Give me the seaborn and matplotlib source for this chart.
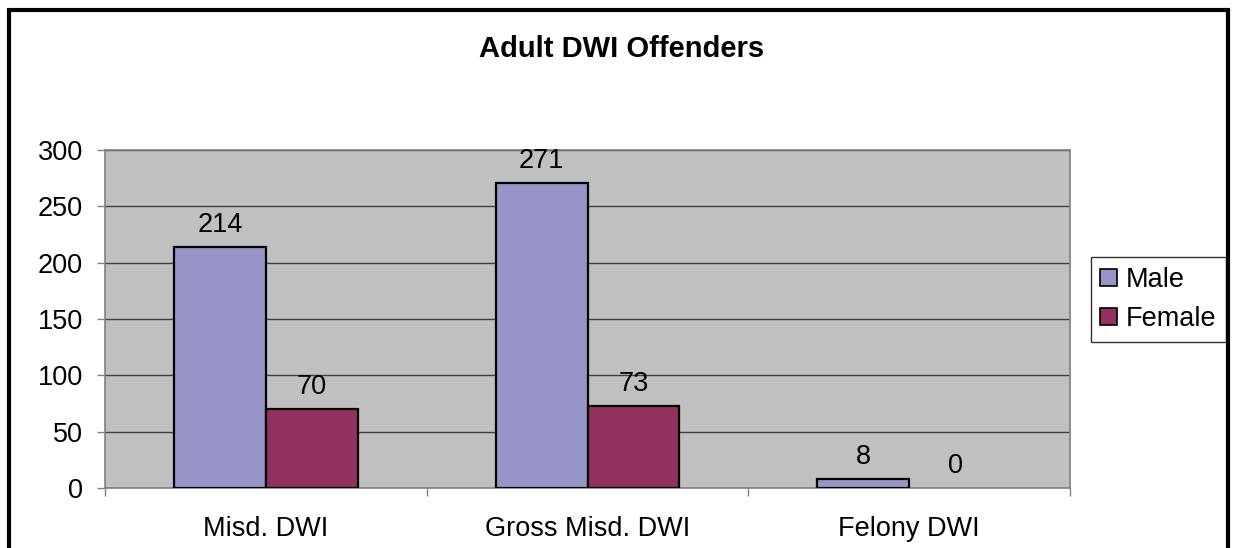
import matplotlib
matplotlib.use("Agg")
import matplotlib.pyplot as plt
import seaborn as sns
import pandas as pd
from matplotlib.patches import Rectangle

categories = ["Misd. DWI", "Gross Misd. DWI", "Felony DWI"]
series_names = ["Male", "Female"]
male_values = [214, 271, 8]
female_values = [70, 73, 0]
y_ticks = [0, 50, 100, 150, 200, 250, 300]
title = "Adult DWI Offenders"
colors = ["#9794C8", "#933260"]

df = pd.DataFrame({
    "category": categories * 2,
    "sex": [series_names[0]] * 3 + [series_names[1]] * 3,
    "value": male_values + female_values,
})

sns.set_theme(style="white")
plt.rcParams["font.family"] = ["Liberation Sans", "DejaVu Sans"]
plt.rcParams["text.color"] = "black"
plt.rcParams["xtick.labelcolor"] = "black"
plt.rcParams["ytick.labelcolor"] = "black"

FS = 19.5
W, H = 1236, 548
fig = plt.figure(figsize=(W / 100, H / 100), dpi=100)
ax = fig.add_axes([105 / W, 1 - 488 / H, (1070 - 105) / W, (488 - 150) / H])

sns.barplot(data=df, x="category", y="value", hue="sex", order=categories,
            hue_order=series_names, palette=colors, width=0.57,
            edgecolor="black", linewidth=1.6, saturation=1, ax=ax, zorder=3)

# hide outline of zero-height bars
for p in ax.patches:
    if p.get_height() == 0:
        p.set_linewidth(0)

ax.set_facecolor("#C0C0C0")
ax.set_ylim(0, 300)
ax.set_xlim(-0.5, 2.5)
ax.set_yticks(y_ticks)
ax.set_yticklabels([str(t) for t in y_ticks], fontsize=FS)
ax.yaxis.grid(True, color="#404040", linewidth=1.0, zorder=0)
ax.set_axisbelow(True)
ax.set_xlabel("")
ax.set_ylabel("")
ax.tick_params(axis="y", length=6, width=1, color="#808080", pad=10, left=True)
ax.tick_params(axis="x", which="major", length=0, labelsize=FS, pad=20)
ax.set_xticks([-0.5, 0.5, 1.5, 2.5], minor=True)
ax.tick_params(axis="x", which="minor", length=6, width=1, color="#808080", bottom=True)
for s in ["top", "right", "left", "bottom"]:
    ax.spines[s].set_color("#808080")
    ax.spines[s].set_linewidth(1.2)

for cont in ax.containers:
    labels = [f"{int(v)}" for v in cont.datavalues]
    ax.bar_label(cont, labels=labels, padding=6.5, fontsize=FS, color="black")

leg = ax.legend(loc="center left", bbox_to_anchor=(1091 / W, 1 - 299.5 / H),
                bbox_transform=fig.transFigure, frameon=True, fancybox=False,
                fontsize=FS, handlelength=0.6, handleheight=0.6,
                handletextpad=0.35, borderpad=0.35, labelspacing=0.5, borderaxespad=0)
leg.get_frame().set_edgecolor("black")
leg.get_frame().set_linewidth(1.0)
for h in leg.legend_handles:
    h.set_edgecolor("black")
    h.set_linewidth(1.2)
for t in leg.get_texts():
    t.set_color("black")

fig.text(622 / W, 1 - 49 / H, title, ha="center", va="center",
         fontsize=21, fontweight="bold", color="black")

fig.patches.append(Rectangle((9 / W, -0.02), (1228 - 9) / W, (1 - 10 / H) + 0.02,
                             transform=fig.transFigure, fill=False,
                             edgecolor="black", linewidth=3.0))

fig.savefig("out.png", dpi=100, facecolor="white")
